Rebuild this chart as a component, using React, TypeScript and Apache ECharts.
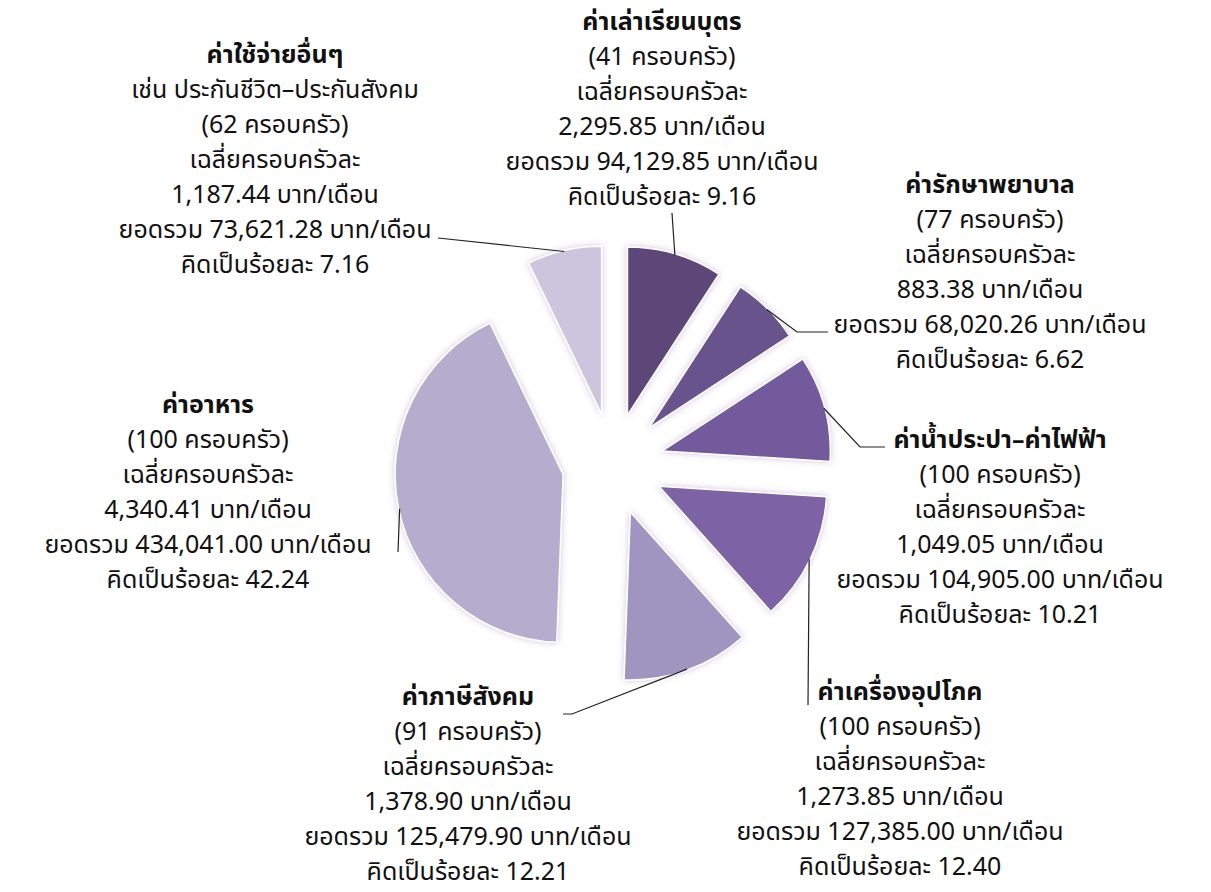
import React, { useEffect, useRef } from 'react';
import * as echarts from 'echarts';

// ---- data ----
const categories = [
  'ค่าเล่าเรียนบุตร',
  'ค่ารักษาพยาบาล',
  'ค่าน้ำประปา–ค่าไฟฟ้า',
  'ค่าเครื่องอุปโภค',
  'ค่าภาษีสังคม',
  'ค่าอาหาร',
  'ค่าใช้จ่ายอื่นๆ',
];
const subtitles = ['', '', '', '', '', '', 'เช่น ประกันชีวิต–ประกันสังคม'];
const households = [41, 77, 100, 100, 91, 100, 62];
const averages = [2295.85, 883.38, 1049.05, 1273.85, 1378.9, 4340.41, 1187.44];
const totals = [94129.85, 68020.26, 104905.0, 127385.0, 125479.9, 434041.0, 73621.28];
const percents = [9.16, 6.62, 10.21, 12.4, 12.21, 42.24, 7.16];

// ---- styles / layout ----
const colors = ['#5b4678', '#69528d', '#735a9c', '#7d63a6', '#a094c0', '#b5adcd', '#cbc6de'];
const CX = 613;
const CY = 464;
const R = 168;
const OFFSET = 51;
const FONT = 'Tahoma, "Noto Sans Thai", Loma, Garuda, "DejaVu Sans", sans-serif';
const FS = 25;
const LH = 35;
// label block: centre x, top y
const labelBoxes = [
  [662, 4],
  [990, 167],
  [1000, 422],
  [900, 674],
  [468, 679],
  [208, 387],
  [275, 37],
];
// leader line points after the anchor on the slice
const leaderEnds = [
  [[672, 213]],
  [[797, 332], [828, 332]],
  [[860, 447], [885, 447]],
  [[808, 705]],
  [[572, 714], [563, 714]],
  [[398, 552]],
  [[438, 238]],
];

const fmt = (v: number) =>
  v.toLocaleString('en-US', { minimumFractionDigits: 2, maximumFractionDigits: 2 });

export default function App() {
  const ref = useRef<HTMLDivElement>(null);
  useEffect(() => {
    if (!ref.current) return;
    const chart = echarts.init(ref.current, undefined, { renderer: 'svg' });
    const sum = totals.reduce((a, b) => a + b, 0);
    const mids: number[] = [];
    let cum = 0;
    totals.forEach((v) => {
      mids.push(((cum + v / 2) / sum) * Math.PI * 2);
      cum += v;
    });

    const common = {
      type: 'pie',
      center: [CX, CY],
      radius: R,
      startAngle: 90,
      clockwise: true,
      avoidLabelOverlap: false,
      emphasis: { disabled: true },
    };

    chart.setOption({
      animation: false,
      backgroundColor: '#ffffff',
      series: [
        {
          ...common,
          selectedMode: 'multiple',
          selectedOffset: OFFSET,
          itemStyle: {
            borderColor: '#ffffff',
            borderWidth: 1.5,
            shadowBlur: 6,
            shadowColor: 'rgba(110,90,150,0.35)',
          },
          data: categories.map((n, i) => ({
            name: n,
            value: totals[i],
            selected: true,
            itemStyle: { color: colors[i] },
          })),
          label: { show: false },
          labelLine: { show: false },
        },
        {
          ...common,
          silent: true,
          z: 3,
          itemStyle: { color: 'rgba(0,0,0,0)', borderWidth: 0 },
          data: categories.map((n, i) => ({ name: n, value: totals[i] })),
          label: {
            show: true,
            position: 'outside',
            color: '#111111',
            fontFamily: FONT,
            fontSize: FS,
            lineHeight: LH,
            formatter: (p: any) => {
              const i = p.dataIndex;
              const lines = [`{t|${categories[i]}}`];
              if (subtitles[i]) lines.push(subtitles[i]);
              lines.push(`(${households[i]} ครอบครัว)`);
              lines.push('เฉลี่ยครอบครัวละ');
              lines.push(`${fmt(averages[i])} บาท/เดือน`);
              lines.push(`ยอดรวม ${fmt(totals[i])} บาท/เดือน`);
              lines.push(`คิดเป็นร้อยละ ${percents[i].toFixed(2)}`);
              return lines.join('\n');
            },
            rich: {
              t: {
                fontWeight: 'bold',
                fontFamily: FONT,
                fontSize: FS,
                lineHeight: LH,
                color: '#111111',
              },
            },
          },
          labelLine: {
            show: true,
            length: 10,
            length2: 10,
            lineStyle: { color: '#222222', width: 1.2 },
          },
          labelLayout: (p: any) => {
            const i = p.dataIndex;
            const a = mids[i];
            const rr = R + OFFSET - 1;
            const anchor = [CX + rr * Math.sin(a), CY - rr * Math.cos(a)];
            const pts = [anchor, ...leaderEnds[i]];
            while (pts.length < 3) pts.push(pts[pts.length - 1]);
            return {
              x: labelBoxes[i][0],
              y: labelBoxes[i][1],
              align: 'center',
              verticalAlign: 'top',
              labelLinePoints: pts,
            };
          },
        },
      ],
    });
    return () => chart.dispose();
  }, []);
  return (
    <div
      ref={ref}
      style={{ position: 'absolute', left: 0, top: 0, width: 1211, height: 892, background: '#fff' }}
    />
  );
}
